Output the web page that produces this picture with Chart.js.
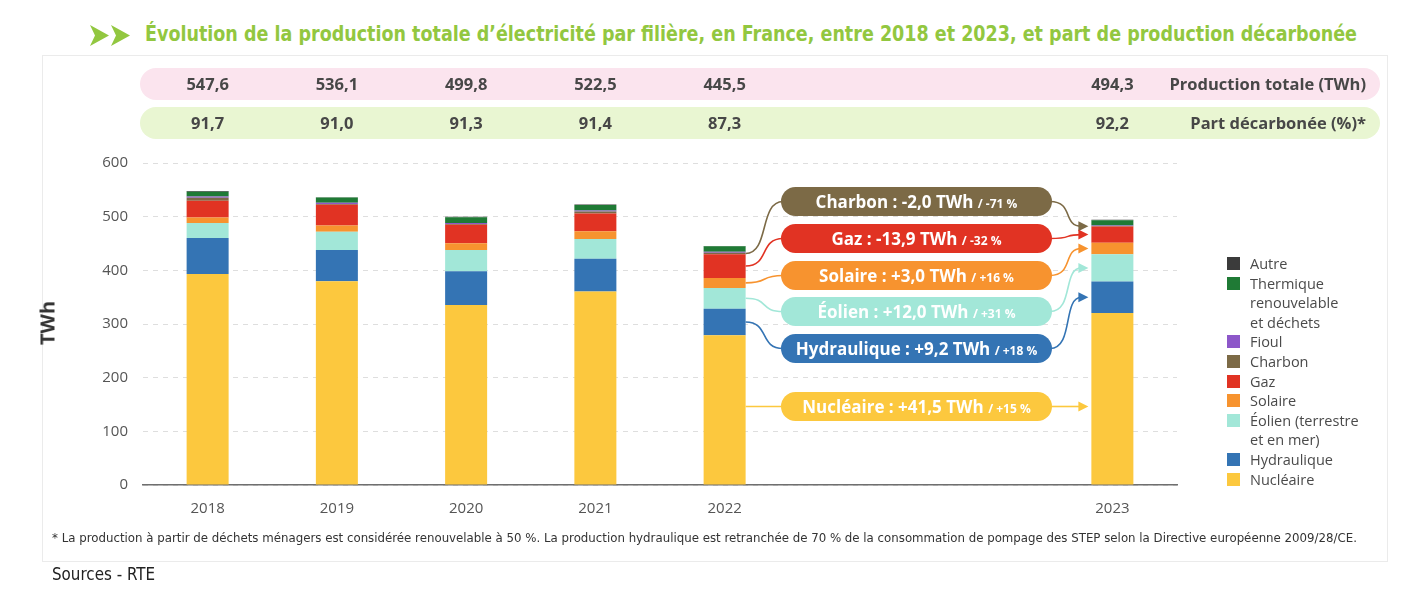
<!DOCTYPE html>
<html>
<head>
<meta charset="utf-8">
<script src="https://cdn.jsdelivr.net/npm/chart.js@4.4.1/dist/chart.umd.min.js"></script>
<style>
  body { margin: 0; width: 1402px; height: 592px; background: #fff; position: relative; overflow: hidden; font-family: "Open Sans", sans-serif; }
  .abs { position: absolute; white-space: nowrap; }
  #frame { left: 42px; top: 55px; width: 1346px; height: 507px; border: 1px solid #ebebeb; box-sizing: border-box; }
  #title { left: 145px; top: 21px; color: #92c740; font: bold 22px "Liberation Sans Narrow", "DejaVu Sans Condensed", sans-serif; transform-origin: left top; }
  .row { left: 140px; width: 1240px; height: 32px; border-radius: 16px; }
  #rowP { top: 68px; background: #fbe4ee; }
  #rowG { top: 107px; background: #e9f6d2; }
  .rowlab { right: 36px; font: bold 16.5px "Open Sans", sans-serif; color: #474747; line-height: 22px; }
  #ytitle { left: 47px; top: 323px; transform: translate(-50%, -50%) rotate(-90deg); font: bold 20px "Open Sans", sans-serif; color: #333; }
  #legend { left: 1227px; top: 254px; font: 14.5px "Open Sans", sans-serif; color: #4a4a4a; line-height: 19.6px; }
  .li { position: relative; padding-left: 23px; white-space: pre-line; }
  .li i { position: absolute; left: 0; top: 3px; width: 13px; height: 13px; }
  .box { left: 781px; width: 271px; height: 29px; border-radius: 15px; color: #fff; font: bold 17px "Open Sans", sans-serif; text-align: center; line-height: 29px; }
  .box small { font-size: 12px; }
  #foot { left: 52px; top: 530px; font: 12.5px "Liberation Sans Narrow", "DejaVu Sans Condensed", sans-serif; color: #333; transform-origin: left top; }
  #src { left: 52px; top: 564px; font: 17px "Liberation Sans Narrow", "DejaVu Sans Condensed", sans-serif; color: #222; transform-origin: left top; }
  canvas { position: absolute; left: 0; top: 0; }
</style>
</head>
<body>
<div id="frame" class="abs"></div>
<svg class="abs" style="left:90px;top:25px" width="42" height="21">
  <polygon points="0,0 19,10.5 0,21 5,10.5" fill="#92c740"/>
  <polygon points="21,0 40,10.5 21,21 26,10.5" fill="#92c740"/>
</svg>
<div id="title" class="abs">Évolution de la production totale d’électricité par filière, en France, entre 2018 et 2023, et part de production décarbonée</div>
<div id="rowP" class="abs row"></div>
<div id="rowG" class="abs row"></div>
<canvas id="c" width="1402" height="592"></canvas>
<div class="abs rowlab" style="top:73px">Production totale (TWh)</div>
<div class="abs rowlab" style="top:112px">Part décarbonée (%)*</div>
<div id="ytitle" class="abs">TWh</div>
<div id="legend" class="abs"></div>
<div id="boxes"></div>
<div id="foot" class="abs">* La production à partir de déchets ménagers est considérée renouvelable à 50 %. La production hydraulique est retranchée de 70 % de la consommation de pompage des STEP selon la Directive européenne 2009/28/CE.</div>
<div id="src" class="abs">Sources - RTE</div>

<script>
const years = ['2018', '2019', '2020', '2021', '2022', '', '', '2023'];

const nucleaire   = [393.2, 379.5, 335.4, 360.7, 279.0, null, null, 320.4];
const hydraulique = [67.0, 58.5, 62.8, 60.9, 49.6, null, null, 58.8];
const eolien      = [28.1, 34.1, 39.7, 36.8, 38.7, null, null, 50.7];
const solaire     = [10.2, 11.6, 12.6, 14.3, 18.6, null, null, 21.6];
const gaz         = [31.1, 38.5, 34.5, 33.2, 44.1, null, null, 30.2];
const charbon     = [5.8, 1.6, 1.4, 3.8, 2.8, null, null, 0.8];
const fioul       = [2.0, 2.3, 1.6, 1.9, 1.6, null, null, 1.0];
const thermique   = [9.2, 9.5, 10.8, 10.1, 10.3, null, null, 10.0];
const autre       = [1.0, 0.5, 1.0, 0.8, 0.8, null, null, 0.8];

const prodTotale = [547.6, 536.1, 499.8, 522.5, 445.5, null, null, 494.3];
const partDecarb = [91.7, 91.0, 91.3, 91.4, 87.3, null, null, 92.2];

// évolution 2022 -> 2023
const evolNoms = ['Charbon', 'Gaz', 'Solaire', 'Éolien', 'Hydraulique', 'Nucléaire'];
const evolTWh  = [-2.0, -13.9, 3.0, 12.0, 9.2, 41.5];
const evolPct  = [-71, -32, 16, 31, 18, 15];

const couleurs = {
  nucleaire: '#fcc83e', hydraulique: '#3474b4', eolien: '#a2e7d8', solaire: '#f7932f',
  gaz: '#e13323', charbon: '#7c6a46', fioul: '#8d57c9', thermique: '#1f7a35', autre: '#3b3b3b'
};

const series = [
  { label: 'Nucléaire', data: nucleaire, color: couleurs.nucleaire },
  { label: 'Hydraulique', data: hydraulique, color: couleurs.hydraulique },
  { label: 'Éolien (terrestre\net en mer)', data: eolien, color: couleurs.eolien },
  { label: 'Solaire', data: solaire, color: couleurs.solaire },
  { label: 'Gaz', data: gaz, color: couleurs.gaz },
  { label: 'Charbon', data: charbon, color: couleurs.charbon },
  { label: 'Fioul', data: fioul, color: couleurs.fioul },
  { label: 'Thermique\nrenouvelable\net déchets', data: thermique, color: couleurs.thermique },
  { label: 'Autre', data: autre, color: couleurs.autre }
];

// dataset index for each annotation box, and box tops
const evolSerie = [5, 4, 3, 2, 1, 0];
const boxTop = [187, 224, 261, 297, 334, 392];
const boxCol = [couleurs.charbon, couleurs.gaz, couleurs.solaire, couleurs.eolien, couleurs.hydraulique, couleurs.nucleaire];

const fmt = v => v.toFixed(1).replace('.', ',');
const sign = v => (v > 0 ? '+' : '-') + fmt(Math.abs(v));

// legend
const legend = document.getElementById('legend');
series.slice().reverse().forEach(s => {
  const d = document.createElement('div');
  d.className = 'li';
  d.innerHTML = '<i style="background:' + s.color + '"></i>';
  d.appendChild(document.createTextNode(s.label));
  legend.appendChild(d);
});

// annotation boxes
const boxes = document.getElementById('boxes');
evolNoms.forEach((n, k) => {
  const d = document.createElement('div');
  d.className = 'abs box';
  d.style.top = boxTop[k] + 'px';
  d.style.background = boxCol[k];
  const pct = (evolPct[k] > 0 ? '+' : '') + evolPct[k] + ' %';
  d.innerHTML = n + ' : ' + sign(evolTWh[k]) + ' TWh <small>/ ' + pct + '</small>';
  boxes.appendChild(d);
});

function fitWidth(id, w) {
  const el = document.getElementById(id);
  const cur = el.getBoundingClientRect().width;
  el.style.transform = 'scaleX(' + (w / cur) + ')';
}
fitWidth('title', 1212);
fitWidth('foot', 1305);
fitWidth('src', 103);

const extras = {
  id: 'extras',
  afterDatasetsDraw(chart) {
    const ctx = chart.ctx;
    const x = chart.scales.x;
    ctx.save();
    ctx.font = 'bold 16.5px "Open Sans"';
    ctx.fillStyle = '#474747';
    ctx.textAlign = 'center';
    ctx.textBaseline = 'middle';
    prodTotale.forEach((v, i) => { if (v != null) ctx.fillText(fmt(v), x.getPixelForValue(i), 85.5); });
    partDecarb.forEach((v, i) => { if (v != null) ctx.fillText(fmt(v), x.getPixelForValue(i), 124.5); });

    // connectors 2022 -> box -> 2023
    const bx0 = 781, bx1 = 1052;
    ctx.lineWidth = 1.6;
    evolSerie.forEach((di, k) => {
      const meta = chart.getDatasetMeta(di);
      const b22 = meta.data[4], b23 = meta.data[7];
      const yc = boxTop[k] + 14.5;
      let y0 = (b22.y + b22.base) / 2, y1 = (b23.y + b23.base) / 2;
      if (di === 0) { y0 = yc; y1 = yc; }
      const x0 = b22.x + b22.width / 2;
      const tip = b23.x - b23.width / 2 - 3;
      ctx.strokeStyle = boxCol[k];
      ctx.fillStyle = boxCol[k];
      ctx.beginPath();
      ctx.moveTo(x0, y0);
      ctx.bezierCurveTo(x0 + 24, y0, bx0 - 22, yc, bx0 + 2, yc);
      ctx.stroke();
      ctx.beginPath();
      ctx.moveTo(bx1 - 2, yc);
      ctx.bezierCurveTo(bx1 + 22, yc, tip - 26, y1, tip - 7, y1);
      ctx.stroke();
      ctx.beginPath();
      ctx.moveTo(tip, y1);
      ctx.lineTo(tip - 10, y1 - 5);
      ctx.lineTo(tip - 10, y1 + 5);
      ctx.closePath();
      ctx.fill();
    });
    ctx.restore();
  }
};

new Chart(document.getElementById('c'), {
  type: 'bar',
  data: {
    labels: years,
    datasets: series.map(s => ({
      label: s.label,
      data: s.data,
      backgroundColor: s.color,
      borderWidth: 0,
      categoryPercentage: 1,
      barPercentage: 0.325
    }))
  },
  options: {
    responsive: false,
    animation: false,
    events: [],
    layout: { padding: { left: 83, right: 225, top: 163, bottom: 67 } },
    plugins: { legend: { display: false }, tooltip: { enabled: false } },
    scales: {
      x: {
        stacked: true,
        afterFit: s => { s.height = 40; },
        grid: { display: false, drawTicks: false },
        border: { display: true, color: '#6f6f6f', width: 1.5 },
        ticks: { color: '#555', font: { family: 'Open Sans', size: 15 }, padding: 15, autoSkip: false, maxRotation: 0 }
      },
      y: {
        stacked: true,
        min: 0, max: 600,
        afterFit: s => { s.width = 60; },
        grid: { color: '#dedede', drawTicks: false },
        border: { display: false, dash: [5, 5] },
        ticks: { stepSize: 100, color: '#555', font: { family: 'Open Sans', size: 15 }, padding: 15 }
      }
    }
  },
  plugins: [extras]
});
</script>
</body>
</html>
